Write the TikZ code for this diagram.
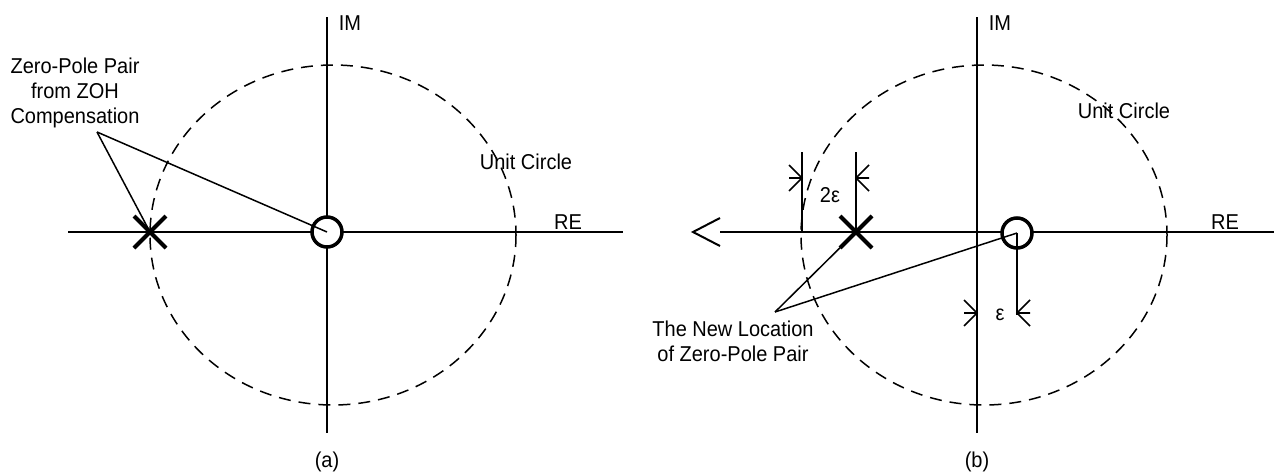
\documentclass[tikz,border=0pt]{standalone}
\usepackage{fontspec}
\usepackage{graphicx}
\setmainfont{Liberation Sans}
\usetikzlibrary{shapes.misc}
\newcommand{\sqz}[1]{\scalebox{0.93}[1]{#1}}
\begin{document}
\begin{tikzpicture}[x=1pt,y=-1pt,
  axis/.style={line width=2pt},
  lead/.style={line width=1.5pt},
  dimline/.style={line width=1.6pt},
  unitc/.style={line width=1.5pt, dash pattern=on 12pt off 8pt},
  lbl/.style={font=\fontsize{21.5}{25}\selectfont, align=center, inner sep=0pt},
  polemark/.style={draw, cross out, minimum size=28pt, inner sep=0pt, line width=4pt},
  zeromark/.style={draw, circle, fill=white, minimum size=30pt, inner sep=0pt, line width=3.5pt}
]
\useasboundingbox (0,0) rectangle (1274,474);

% ---------------- panel (a)
\draw[unitc] (333,235) ellipse [x radius=183, y radius=170];
\coordinate (rea0) at (68,232);
\coordinate (rea1) at (623,232);
\coordinate (ima0) at (327,17);
\coordinate (ima1) at (327,433);
\draw[axis] (rea0) -- (rea1);
\draw[axis] (ima0) -- (ima1);
\node[polemark] (xa) at (150,232) {};
\node[zeromark] (oa) at (327,232) {};
\coordinate (apexa) at (97,132);
\draw[lead] (apexa) -- (xa.center);
\draw[lead] (apexa) -- (oa.center);
\node[lbl] (labela) at (75,93) {\sqz{Zero-Pole Pair}\\\sqz{from ZOH}\\\sqz{Compensation}};
\node[lbl] (ima) at (350,23) {\sqz{IM}};
\node[lbl] (rea) at (568,222) {\sqz{RE}};
\node[lbl] (uca) at (526,162) {\sqz{Unit Circle}};
\node[lbl] (capa) at (327,462) {\sqz{(a)}};

% ---------------- panel (b)
\draw[unitc] (984,235) ellipse [x radius=183, y radius=170];
\coordinate (reb0) at (720,232);
\coordinate (reb1) at (1274,232);
\coordinate (imb0) at (977,17);
\coordinate (imb1) at (977,433);
\draw[axis] (reb0) -- (reb1);
\draw[axis] (imb0) -- (imb1);
\coordinate (tipb) at (693,232);
\draw[axis] (720,218) -- (tipb) -- (720,246);

% 2 epsilon dimension
\coordinate (d1top) at (802,152);
\coordinate (d1bot) at (802,232);
\coordinate (d2top) at (856,152);
\draw[dimline] (d1top) -- (d1bot);
\draw[dimline] (d2top) -- (856,232);
\draw[dimline] (789,178) -- (802,178) (789,165) -- (802,178) -- (789,191);
\draw[dimline] (869,178) -- (856,178) (869,165) -- (856,178) -- (869,191);
\node[lbl] (eps2) at (830,195) {\sqz{2ε}};

\node[polemark] (xb) at (856,232) {};
\node[zeromark] (ob) at (1017,233) {};

% epsilon dimension
\coordinate (e1bot) at (1017,315);
\draw[dimline] (ob.center) -- (e1bot);
\draw[dimline] (964,313) -- (977,313) (964,300) -- (977,313) -- (964,326);
\draw[dimline] (1030,313) -- (1017,313) (1030,300) -- (1017,313) -- (1030,326);
\node[lbl] (eps1) at (1000,315) {\sqz{ε}};

\coordinate (apexb) at (775,312);
\draw[lead] (apexb) -- (xb.center);
\draw[lead] (apexb) -- (ob.center);
\node[lbl] (labelb) at (733,341) {\sqz{The New Location}\\\sqz{of Zero-Pole Pair}};
\node[lbl] (imb) at (1000,23) {\sqz{IM}};
\node[lbl] (reb) at (1225,222) {\sqz{RE}};
\node[lbl] (ucb) at (1124,111) {\sqz{Unit Circle}};
\node[lbl] (capb) at (977,462) {\sqz{(b)}};
\end{tikzpicture}
\end{document}
